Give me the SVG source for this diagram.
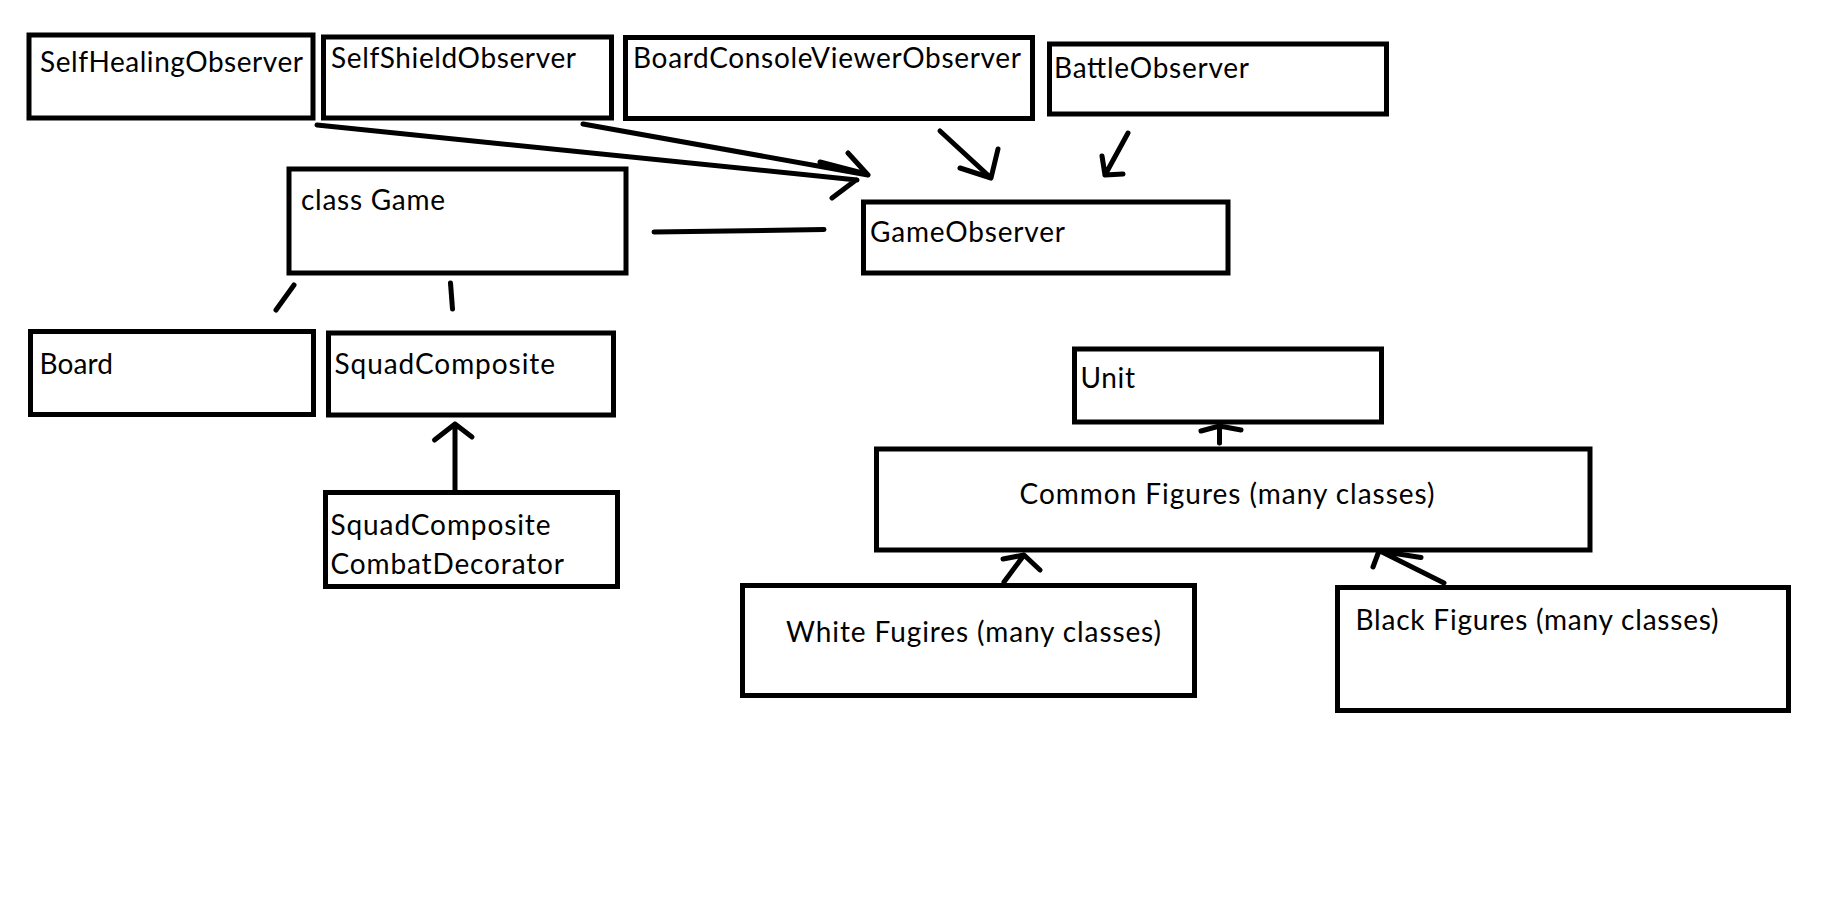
<svg xmlns="http://www.w3.org/2000/svg" width="1827" height="900" viewBox="0 0 1827 900">
<style>
.box{fill:#fff;stroke:#000;stroke-width:5}
.lbl{font-family:Lato,"Liberation Sans",sans-serif;font-size:28px;fill:#000}
.c{fill:none;stroke:#000;stroke-width:5;stroke-linecap:round;stroke-linejoin:round}
</style>
<rect width="1827" height="900" fill="#fff"/>
<g id="selfHealingObserver"><rect class="box" x="29" y="35" width="284" height="83"/><text class="lbl" x="40" y="72" textLength="263">SelfHealingObserver</text></g>
<g id="selfShieldObserver"><rect class="box" x="323.5" y="37" width="288" height="81"/><text class="lbl" x="331" y="67.5" textLength="245">SelfShieldObserver</text></g>
<g id="boardConsoleViewerObserver"><rect class="box" x="625.5" y="37.5" width="407" height="81"/><text class="lbl" x="633" y="68" textLength="388">BoardConsoleViewerObserver</text></g>
<g id="battleObserver"><rect class="box" x="1049.5" y="44" width="337" height="70"/><text class="lbl" x="1054" y="78" textLength="195">BattleObserver</text></g>
<g id="game"><rect class="box" x="289" y="169" width="337" height="104"/><text class="lbl" x="301" y="210" textLength="144">class Game</text></g>
<g id="gameObserver"><rect class="box" x="863.5" y="202" width="364.5" height="71"/><text class="lbl" x="870" y="241.5" textLength="195">GameObserver</text></g>
<g id="board"><rect class="box" x="30.5" y="331.5" width="283" height="83"/><text class="lbl" x="39.5" y="374" textLength="73.5">Board</text></g>
<g id="squadComposite"><rect class="box" x="328.5" y="333" width="285" height="82"/><text class="lbl" x="334.5" y="373.5" textLength="220.5">SquadComposite</text></g>
<g id="squadCompositeCombatDecorator"><rect class="box" x="325.5" y="492.5" width="292" height="94"/><text class="lbl" x="330.5" y="535" textLength="220">SquadComposite</text><text class="lbl" x="330.5" y="574" textLength="233.5">CombatDecorator</text></g>
<g id="unit"><rect class="box" x="1074.5" y="349" width="307" height="73"/><text class="lbl" x="1080.5" y="387.5" textLength="54.5">Unit</text></g>
<g id="commonFigures"><rect class="box" x="876.5" y="449" width="713.5" height="101"/><text class="lbl" x="1019.5" y="504" textLength="415">Common Figures (many classes)</text></g>
<g id="whiteFigures"><rect class="box" x="742.5" y="585.5" width="452" height="110"/><text class="lbl" x="786" y="641.5" textLength="375">White Fugires (many classes)</text></g>
<g id="blackFigures"><rect class="box" x="1337.5" y="587.5" width="451" height="123"/><text class="lbl" x="1355.5" y="630" textLength="363">Black Figures (many classes)</text></g>
<g id="connectors">
<path class="c" d="M583,124 L868,175 M848,153 L868,175 M820,162 L866,174"/>
<path class="c" d="M317,125 L857,180 M832,198 L856,180"/>
<path class="c" d="M940,131 L991,178 M998,149 L991,178 M960,168 L991,178"/>
<path class="c" d="M1128,133 L1105,175 M1102,156 L1105,175 M1123,174 L1105,175"/>
<path class="c" d="M654,232 L824,229.5"/>
<path class="c" d="M294,285 L276,310"/>
<path class="c" d="M450.5,283 L452.5,309"/>
<path class="c" d="M455,490 L455,424 M434.5,440 L455,424 L472,437"/>
<path class="c" d="M1219.5,443 L1219.5,426 M1201,431 L1219.5,426 L1241,430"/>
<path class="c" d="M1004,582 L1024,555 M1003,559 L1024,555 L1040,570"/>
<path class="c" d="M1444,583 L1380,551 M1373,567 L1379,551 L1421,557.5"/>
</g>
</svg>
